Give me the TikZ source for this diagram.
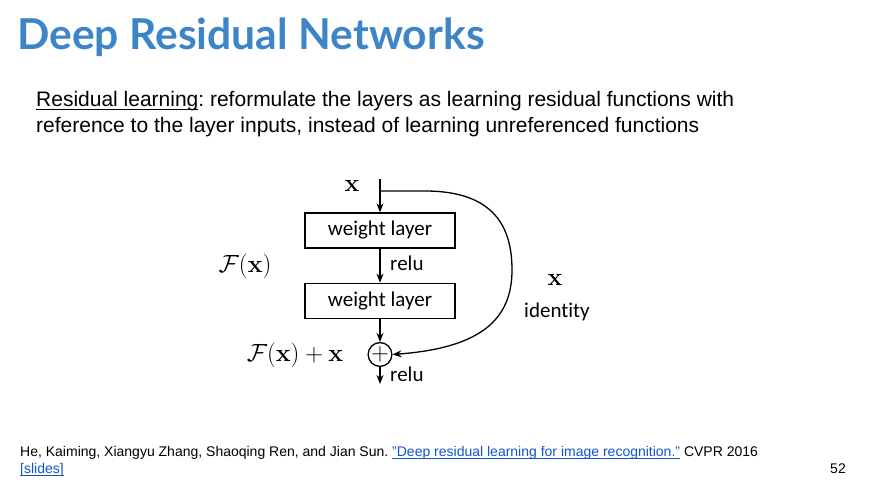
\documentclass[tikz,border=0pt]{standalone}
\usepackage{amsmath,amssymb}
\usepackage[no-math]{fontspec}
\setmainfont{Liberation Sans}
\newfontfamily\titlefont{Lato}
\newfontfamily\figfont[Ligatures=NoCommon]{Carlito}
\usepackage{xcolor}
\usepackage{tikz}
\usetikzlibrary{arrows.meta, positioning}
\definecolor{titleblue}{RGB}{61,133,198}
\definecolor{linkblue}{RGB}{17,85,204}
\newcommand{\slideul}[1]{\setbox0\hbox{#1}\rlap{\rule[-3.2pt]{\wd0}{1.3pt}}\box0}
\newcommand{\linkul}[1]{\setbox0\hbox{#1}\rlap{\rule[-2.5pt]{\wd0}{0.9pt}}\box0}
\frenchspacing

\begin{document}
\begin{tikzpicture}[
    x=1pt, y=-1pt,
    layer/.style={rectangle, draw, line width=1.3pt, minimum width=150pt, minimum height=35pt, inner sep=0pt, font=\figfont\fontsize{21}{24}\selectfont},
    adder/.style={circle, draw, line width=1.3pt, minimum size=20pt, inner sep=0pt, font=\fontsize{24}{26}\selectfont},
    figlabel/.style={inner sep=0pt, font=\figfont\fontsize{21}{24}\selectfont},
    mathlabel/.style={inner sep=0pt, font=\fontsize{23}{27}\selectfont},
    arrow/.style={-{Stealth[length=9pt,width=7pt]}, line width=1.3pt}
]
    \useasboundingbox[fill=white] (0,0) rectangle (881,489);

    % Slide heading and statement
    \node (title) [anchor=base west, inner sep=0pt, text=titleblue, font=\titlefont\bfseries\fontsize{42.6}{48}\selectfont] at (17,50) {Deep Residual Networks};
    \node (statement) [anchor=base west, inner sep=0pt, align=left, font=\fontsize{21}{26}\selectfont] at (36,133)
        {\slideul{Residual learning}: reformulate the layers as learning residual functions with\\reference to the layer inputs, instead of learning unreferenced functions};

    % Residual block
    \node (wl1) [layer] at (380,230.5) {weight layer};
    \node (wl2) [layer, below=34pt of wl1] {weight layer};
    \node (add) [adder, below=23pt of wl2] {$+$};
    \coordinate (in) at (380,179);
    \coordinate (split) at (380,191);
    \coordinate (out) at (380,384);

    \node (xin) [mathlabel] at (352,186) {$\mathbf{x}$};
    \node (relu1) [figlabel, anchor=west] at (390,263) {relu};
    \node (relu2) [figlabel, anchor=west] at (390,374) {relu};
    \node (fx) [mathlabel] at (245,266) {$\mathcal{F}(\mathbf{x})$};
    \node (fxx) [mathlabel] at (295,355) {$\mathcal{F}(\mathbf{x})+\mathbf{x}$};
    \node (xid) [mathlabel] at (555,280) {$\mathbf{x}$};
    \node (identity) [figlabel] at (557,312) {identity};

    \draw [arrow] (in) -- (wl1);
    \draw [arrow] (wl1) -- (wl2);
    \draw [arrow] (wl2) -- (add);
    \draw [arrow] (add) -- (out);
    \draw [arrow] (split) -- (425,191) .. controls (495,191) and (512,228) .. (512,270)
        .. controls (512,320) and (480,348) .. (add.east);

    % Reference and page number
    \node (ref) [anchor=base west, inner sep=0pt, align=left, font=\fontsize{14}{17}\selectfont] at (20,473)
        {He, Kaiming, Xiangyu Zhang, Shaoqing Ren, and Jian Sun. \textcolor{linkblue}{\linkul{"Deep residual learning for image recognition."}} CVPR 2016\\
         \textcolor{linkblue}{\linkul{[slides]}}};
    \node (page) [anchor=base, inner sep=0pt, font=\fontsize{14}{17}\selectfont] at (838,473) {52};
\end{tikzpicture}
\end{document}
